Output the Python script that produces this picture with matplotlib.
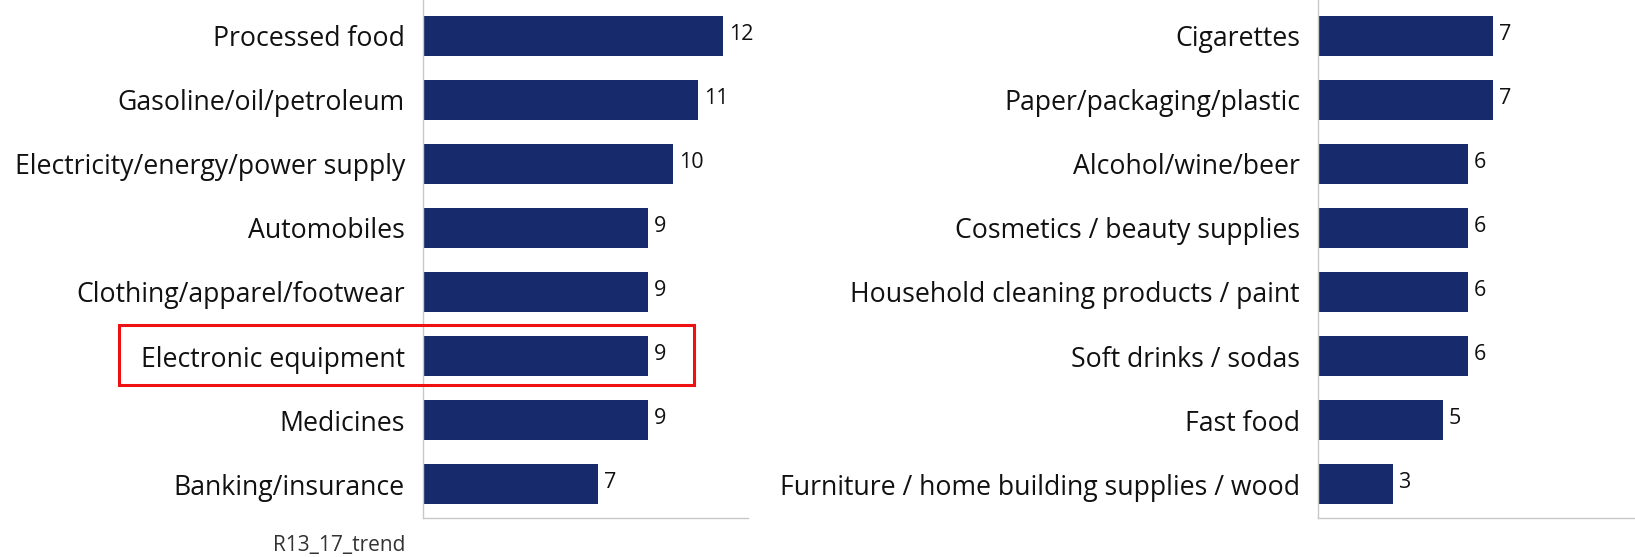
import matplotlib
matplotlib.use("Agg")
import matplotlib.pyplot as plt
from matplotlib.patches import Rectangle

plt.rcParams['font.family'] = ['Open Sans', 'DejaVu Sans']

LEFT_CATS = ["Processed food", "Gasoline/oil/petroleum", "Electricity/energy/power supply",
             "Automobiles", "Clothing/apparel/footwear", "Electronic equipment",
             "Medicines", "Banking/insurance"]
LEFT_VALS = [12, 11, 10, 9, 9, 9, 9, 7]
RIGHT_CATS = ["Cigarettes", "Paper/packaging/plastic", "Alcohol/wine/beer",
              "Cosmetics / beauty supplies", "Household cleaning products / paint",
              "Soft drinks / sodas", "Fast food", "Furniture / home building supplies / wood"]
RIGHT_VALS = [7, 7, 6, 6, 6, 6, 5, 3]
SOURCE = "R13_17_trend"

BAR = "#172a6c"
TXT = "#111111"
W, H = 1635, 557

fig = plt.figure(figsize=(W / 100, H / 100), dpi=100)
axL = fig.add_axes([423 / W, 1 - 518 / H, 325 / W, 518 / H])
axR = fig.add_axes([1318 / W, 1 - 518 / H, 325 / W, 518 / H])


def panel(ax, cats, vals):
    y = list(range(len(cats)))
    ax.barh(y, vals, height=0.625, color=BAR)
    for yi, v in zip(y, vals):
        ax.annotate(f"{v}", (v, yi), xytext=(4, 1), textcoords="offset points",
                    va="center", ha="left", fontsize=15.5, color=TXT)
    ax.set_yticks(y)
    ax.set_yticklabels(cats, fontsize=19.2, color=TXT)
    ax.set_ylim(7.53, -0.56)
    ax.set_xlim(0, 13)
    ax.set_xticks([])
    ax.tick_params(axis="y", length=0, pad=13)
    for s in ("top", "right"):
        ax.spines[s].set_visible(False)
    for s in ("left", "bottom"):
        ax.spines[s].set_color("#c8c8c8")
        ax.spines[s].set_linewidth(1.0)


panel(axL, LEFT_CATS, LEFT_VALS)
panel(axR, RIGHT_CATS, RIGHT_VALS)

# red highlight box around the highlighted row
fig.patches.append(Rectangle((119 / W, 1 - 385 / H), (694 - 119) / W, 60 / H,
                             transform=fig.transFigure, fill=False,
                             edgecolor="#ee1111", linewidth=2.2))

fig.text(405 / W, 1 - 545 / H, SOURCE, ha="right", va="center", fontsize=15, color="#333333")

fig.savefig("out.png", dpi=100)
